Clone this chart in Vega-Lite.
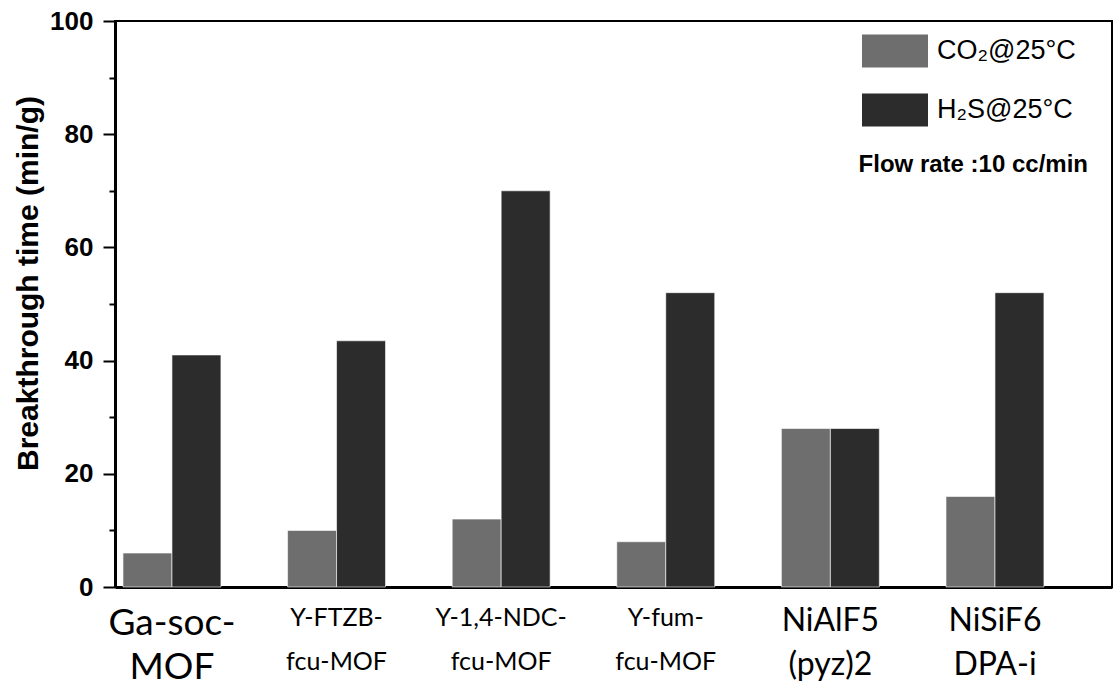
{
  "$schema": "https://vega.github.io/schema/vega-lite/v6.json",
  "width": 997,
  "height": 566,
  "autosize": {"type": "none"},
  "padding": {"left": 115, "top": 21, "right": 3, "bottom": 107},
  "background": "white",
  "config": {
    "view": {"stroke": "black", "strokeWidth": 2},
    "font": "Liberation Sans"
  },
  "data": {
    "values": [
      {"material": "Ga-soc- MOF", "gas": "CO₂@25°C", "time": 6},
      {"material": "Ga-soc- MOF", "gas": "H₂S@25°C", "time": 41},
      {"material": "Y-FTZB- fcu-MOF", "gas": "CO₂@25°C", "time": 10},
      {"material": "Y-FTZB- fcu-MOF", "gas": "H₂S@25°C", "time": 43.5},
      {"material": "Y-1,4-NDC- fcu-MOF", "gas": "CO₂@25°C", "time": 12},
      {"material": "Y-1,4-NDC- fcu-MOF", "gas": "H₂S@25°C", "time": 70},
      {"material": "Y-fum- fcu-MOF", "gas": "CO₂@25°C", "time": 8},
      {"material": "Y-fum- fcu-MOF", "gas": "H₂S@25°C", "time": 52},
      {"material": "NiAlF5 (pyz)2", "gas": "CO₂@25°C", "time": 28},
      {"material": "NiAlF5 (pyz)2", "gas": "H₂S@25°C", "time": 28},
      {"material": "NiSiF6 DPA-i", "gas": "CO₂@25°C", "time": 16},
      {"material": "NiSiF6 DPA-i", "gas": "H₂S@25°C", "time": 52}
    ]
  },
  "layer": [
    {
      "mark": {"type": "bar", "stroke": "white", "strokeWidth": 0.6},
      "encoding": {
        "x": {
          "field": "material",
          "type": "nominal",
          "sort": null,
          "scale": {"paddingInner": 0.405, "paddingOuter": 0.231, "align": 0.105},
          "axis": {
            "title": null,
            "labelAngle": 0,
            "labelExpr": "split(datum.label, ' ')",
            "labelFont": "Lato",
            "labelColor": "black",
            "labelFontSize": {"condition": [
              {"test": "datum.value === 'Ga-soc- MOF'", "value": 37},
              {"test": "indexof(datum.value, 'Ni') === 0", "value": 32}
            ], "value": 25},
            "labelLineHeight": {"condition": [
              {"test": "datum.value === 'Ga-soc- MOF'", "value": 46},
              {"test": "indexof(datum.value, 'Ni') === 0", "value": 40}
            ], "value": 44},
            "labelPadding": 18,
            "ticks": false,
            "domainColor": "black",
            "domainWidth": 3,
            "labelBaseline": "top"
          }
        },
        "xOffset": {"field": "gas", "type": "nominal", "scale": {"paddingInner": 0, "paddingOuter": 0}},
        "y": {
          "field": "time",
          "type": "quantitative",
          "scale": {"domain": [0, 100], "nice": false},
          "axis": {
            "title": "Breakthrough time (min/g)",
            "titleFontSize": 30,
            "titleFontWeight": "bold",
            "titleColor": "black",
            "titleX": -87,
            "titleY": 262,
            "titleBaseline": "middle",
            "values": [0, 10, 20, 30, 40, 50, 60, 70, 80, 90, 100],
            "labelExpr": "datum.value % 20 === 0 ? datum.label : ''",
            "labelFontSize": 26,
            "labelFontWeight": "bold",
            "labelColor": "black",
            "labelPadding": 10,
            "tickColor": "black",
            "tickWidth": 2,
            "tickSize": {"condition": {"test": "datum.value % 20 === 0", "value": 12}, "value": 6},
            "domainColor": "black",
            "domainWidth": 3,
            "grid": false
          }
        },
        "color": {
          "field": "gas",
          "type": "nominal",
          "scale": {"domain": ["CO₂@25°C", "H₂S@25°C"], "range": ["#6e6e6e", "#2c2c2c"]},
          "legend": {
            "title": null,
            "orient": "none",
            "legendX": 747,
            "legendY": -3,
            "symbolType": "M-1,-0.5H1V0.5H-1Z",
            "symbolSize": 4356,
            "symbolStrokeWidth": 0,
            "symbolOpacity": 1,
            "labelFontSize": 27,
            "labelColor": "black",
            "labelOffset": 9,
            "rowPadding": 9
          }
        }
      }
    },
    {
      "data": {"values": [{"material": "NiSiF6 DPA-i", "time": 74.5, "note": "Flow rate :10 cc/min"}]},
      "mark": {"type": "text", "align": "right", "baseline": "middle", "fontSize": 24, "fontWeight": "bold", "dx": 93, "color": "black"},
      "encoding": {
        "x": {"field": "material", "type": "nominal", "sort": null},
        "y": {"field": "time", "type": "quantitative"},
        "text": {"field": "note"}
      }
    }
  ]
}
